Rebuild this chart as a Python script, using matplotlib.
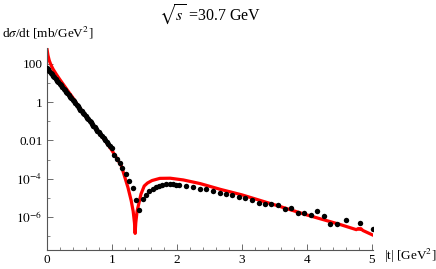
import matplotlib
matplotlib.use("Agg")
import matplotlib.pyplot as plt
from matplotlib.ticker import FixedLocator, FixedFormatter, MultipleLocator, LogLocator, NullFormatter

plt.rcParams['font.family'] = ['Liberation Serif', 'DejaVu Serif']
plt.rcParams['mathtext.fontset'] = 'stix'

# measured data points (|t|, dsigma/dt)
t_data = [0.00, 0.02, 0.04, 0.06, 0.08, 0.10, 0.12, 0.14, 0.16, 0.18,
          0.20, 0.22, 0.24, 0.26, 0.28, 0.30, 0.32, 0.34, 0.36, 0.38,
          0.40, 0.42, 0.44, 0.46, 0.48, 0.50, 0.52, 0.54, 0.56, 0.58,
          0.60, 0.62, 0.64, 0.66, 0.68, 0.70, 0.72, 0.74, 0.76, 0.78,
          0.80, 0.825, 0.85, 0.875, 0.90, 0.925, 0.95, 0.975, 1.00,
          1.04, 1.08, 1.12, 1.16, 1.22, 1.27, 1.32, 1.375, 1.425, 1.477,
          1.53, 1.58, 1.63, 1.68, 1.73, 1.78, 1.84, 1.89, 1.94, 1.99,
          2.04, 2.14, 2.25, 2.36, 2.45, 2.55, 2.66, 2.76, 2.85, 2.96,
          3.05, 3.15, 3.26, 3.36, 3.45, 3.55, 3.66, 3.76, 3.86, 3.96,
          4.06, 4.15, 4.27, 4.36, 4.46, 4.60, 4.81, 5.01]
sig_data = [63, 52, 43, 35, 29, 24, 20, 16.3, 13.4, 11.0,
            9.1, 7.5, 6.2, 5.1, 4.2, 3.5, 2.9, 2.35, 1.95, 1.6,
            1.32, 1.09, 0.89, 0.74, 0.61, 0.50, 0.41, 0.34, 0.28, 0.23,
            0.19, 0.158, 0.13, 0.107, 0.088, 0.072, 0.060, 0.049, 0.041, 0.033,
            0.0275, 0.0215, 0.017, 0.0132, 0.0105, 0.0081, 0.0065, 0.0050, 0.0040,
            1.78e-3, 1.05e-3, 6.3e-4, 3.5e-4, 1.8e-4, 7.8e-5, 3.2e-5, 7.6e-6, 2.3e-6, 9.1e-6,
            1.45e-5, 2.4e-5, 2.95e-5, 3.6e-5, 4.3e-5, 5.0e-5, 5.2e-5, 5.4e-5, 5.2e-5, 5.0e-5,
            4.8e-5, 4.3e-5, 3.6e-5, 3.0e-5, 2.8e-5, 2.35e-5, 1.9e-5, 1.6e-5, 1.5e-5, 1.17e-5,
            1.05e-5, 7.9e-6, 5.6e-6, 4.9e-6, 4.9e-6, 4.3e-6, 2.6e-6, 2.9e-6, 1.6e-6, 1.6e-6,
            1.3e-6, 2.1e-6, 1.17e-6, 4.4e-7, 4.2e-7, 7.1e-7, 5.1e-7, 2.3e-7]

# model curve
t_model = [0.00, 0.02, 0.04, 0.06, 0.08, 0.10, 0.15, 0.20, 0.25, 0.30,
           0.35, 0.40, 0.45, 0.50, 0.60, 0.70, 0.80, 0.90, 1.00, 1.10,
           1.15, 1.20, 1.25, 1.30, 1.33, 1.35, 1.36, 1.37, 1.39, 1.41,
           1.45, 1.50, 1.55, 1.62, 1.74, 1.90, 2.10, 2.36, 2.67, 3.00,
           3.59, 4.00, 4.50, 4.76, 4.79, 4.81, 4.83, 4.86, 5.02]
sig_model = [794, 282, 151, 100, 70.8, 52.5, 28.2, 15.8, 9.12, 5.25,
             3.02, 1.78, 0.977, 0.537, 0.191, 0.0724, 0.0269, 0.00955, 0.00316, 8.9e-4,
             4.5e-4, 1.26e-4, 3.5e-5, 7.1e-6, 2.0e-6, 5.0e-7, 1.4e-7, 5.0e-7, 2.0e-6, 4.0e-6,
             1.58e-5, 4.2e-5, 6.0e-5, 8.1e-5, 1.05e-4, 1.07e-4, 8.7e-5, 5.6e-5, 2.8e-5, 1.45e-5,
             3.55e-6, 1.29e-6, 4.2e-7, 2.2e-7, 2.5e-7, 2.3e-7, 2.5e-7, 2.0e-7, 1.12e-7]

y_ticks = [100, 1, 0.01, 1e-4, 1e-6]
y_labels = ['100', '1', '0.01', r'$10^{-4}$', r'$10^{-6}$']
x_ticks = [0, 1, 2, 3, 4, 5]

fig = plt.figure(figsize=(4.36, 2.69), dpi=100)
ax = fig.add_axes([0.107, 0.0706, 0.749, 0.751])

ax.plot(t_model, sig_model, color='#ff0000', linewidth=2.3, clip_on=True, zorder=2)
ax.plot(t_data, sig_data, 'o', color='black', markersize=3.9, markeredgewidth=0, zorder=3)

ax.set_yscale('log')
ax.set_xlim(0, 5.02)
ax.set_ylim(1.9e-8, 680)

for s in ['top', 'right']:
    ax.spines[s].set_visible(False)
for s in ['left', 'bottom']:
    ax.spines[s].set_color('#555555')
    ax.spines[s].set_linewidth(0.8)

ax.xaxis.set_major_locator(FixedLocator(x_ticks))
ax.xaxis.set_minor_locator(MultipleLocator(0.2))
ax.yaxis.set_major_locator(FixedLocator(y_ticks))
ax.yaxis.set_major_formatter(FixedFormatter(y_labels))
ax.yaxis.set_minor_locator(LogLocator(base=10, subs=(1.0,), numticks=30))
ax.yaxis.set_minor_formatter(NullFormatter())

ax.tick_params(which='both', direction='in', color='#555555', labelsize=9.5)
ax.tick_params(which='major', length=4, width=0.6, pad=3)
ax.tick_params(which='minor', length=2, width=0.5)

fig.text(0.482, 1 - 15 / 269, r'$\sqrt{s}$ =30.7 GeV', ha='center', va='center', fontsize=11.5)
fig.text(0.004, 1 - 33 / 269, r'd$\sigma$/dt [mb/GeV$^2$]', ha='left', va='center', fontsize=9.5)
fig.text(384 / 436, 1 - 256 / 269, r'|t| [GeV$^2$]', ha='left', va='center', fontsize=9.5)

fig.savefig('out.png', dpi=100)
